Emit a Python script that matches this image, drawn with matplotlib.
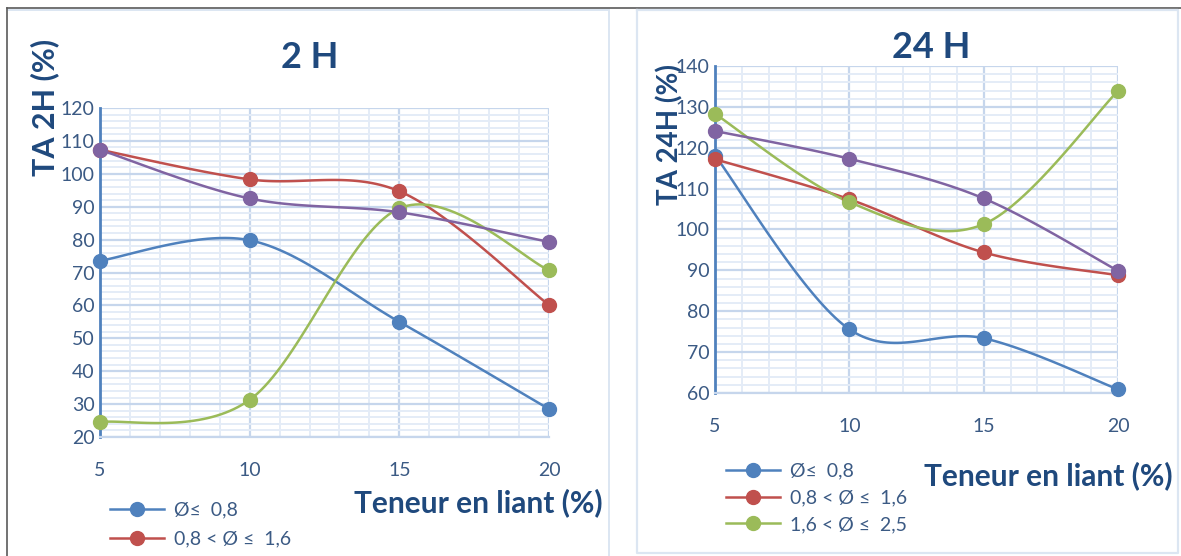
import numpy as np
import matplotlib.pyplot as plt
from matplotlib.lines import Line2D
from matplotlib.ticker import MultipleLocator

plt.rcParams['font.family'] = ['Lato', 'DejaVu Sans']

# teneur en liant (%)
x = [5, 10, 15, 20]

# TA 2H (%)
ta2_a = [73.6, 79.8, 55.0, 28.5]    # Ø ≤ 0,8
ta2_b = [107.3, 98.3, 94.7, 60.1]   # 0,8 < Ø ≤ 1,6
ta2_c = [24.5, 31.3, 89.5, 70.7]    # 1,6 < Ø ≤ 2,5
ta2_d = [107.3, 92.5, 88.3, 79.3]

# TA 24H (%)
ta24_a = [118.1, 75.6, 73.4, 60.9]
ta24_b = [117.2, 107.4, 94.4, 88.8]
ta24_c = [128.3, 106.7, 101.3, 133.9]
ta24_d = [124.1, 117.3, 107.6, 89.9]

labels = ['Ø≤  0,8', '0,8 < Ø ≤  1,6', '1,6 < Ø ≤  2,5']
colors = ['#4F81BD', '#C0504D', '#9BBB59', '#8064A2']
txt = '#1F497D'
tick_col = '#3B5A84'

W, H = 1181, 556


def smooth(xs, ys, n=40):
    # catmull-rom through the points, like excel's smoothed line
    xs = np.asarray(xs, float)
    ys = np.asarray(ys, float)
    px = np.concatenate([[xs[0]], xs, [xs[-1]]])
    py = np.concatenate([[ys[0]], ys, [ys[-1]]])
    ox, oy = [], []
    t = np.linspace(0, 1, n)
    for i in range(1, len(px) - 2):
        for p, o in ((px, ox), (py, oy)):
            p0, p1, p2, p3 = p[i - 1], p[i], p[i + 1], p[i + 2]
            m1 = (p2 - p0) / 2
            m2 = (p3 - p1) / 2
            h00 = 2*t**3 - 3*t**2 + 1
            h10 = t**3 - 2*t**2 + t
            h01 = -2*t**3 + 3*t**2
            h11 = t**3 - t**2
            o.extend(h00*p1 + h10*m1 + h01*p2 + h11*m2)
    return np.array(ox), np.array(oy)


def panel(ax, series, ylim):
    ax.set_xlim(5, 20)
    ax.set_ylim(*ylim)
    ax.xaxis.set_major_locator(MultipleLocator(5))
    ax.xaxis.set_minor_locator(MultipleLocator(1))
    ax.yaxis.set_major_locator(MultipleLocator(10))
    ax.yaxis.set_minor_locator(MultipleLocator(2))
    ax.grid(which='major', color='#C6D6EC', lw=1.6)
    ax.grid(which='minor', color='#E4ECF7', lw=1.4)
    ax.set_axisbelow(True)
    for s in ['top', 'right']:
        ax.spines[s].set_visible(False)
    ax.spines['left'].set_color('#4F81BD')
    ax.spines['left'].set_linewidth(2)
    ax.spines['bottom'].set_color('#C6D6EC')
    ax.spines['bottom'].set_linewidth(1.6)
    ax.tick_params(which='both', length=0)
    ax.tick_params(axis='y', labelsize=14, labelcolor=tick_col, pad=4)
    ax.tick_params(axis='x', labelsize=14, labelcolor=tick_col, pad=18)
    for ys, c in zip(series, colors):
        sx, sy = smooth(x, ys)
        ax.plot(sx, sy, color=c, lw=1.8, clip_on=False, zorder=3)
        ax.plot(x, ys, 'o', color=c, ms=10, clip_on=False, zorder=4)


def ftext(px, py, s, **kw):
    fig.text(px/W, 1 - py/H, s, ha='center', va='center', fontweight='bold',
             color=txt, **kw)


fig = plt.figure(figsize=(11.81, 5.56), dpi=100)

# 2 H
ax1 = fig.add_axes([100/W, 1 - 437/H, 449/W, 329/H])
panel(ax1, [ta2_a, ta2_b, ta2_c, ta2_d], (20, 120))
ftext(310, 57, '2 H', fontsize=26)
ftext(45, 107, 'TA 2H (%)', rotation=90, fontsize=22)
ftext(478, 503, 'Teneur en liant (%)', fontsize=21.5)

# 24 H
ax2 = fig.add_axes([715/W, 1 - 393/H, 403/W, 327/H])
panel(ax2, [ta24_a, ta24_b, ta24_c, ta24_d], (60, 140))
ftext(931, 47, '24 H', fontsize=26)
ftext(670, 134, 'TA 24H (%)', rotation=90, fontsize=20)
ftext(1048, 476, 'Teneur en liant (%)', fontsize=21.5)

handles = [Line2D([], [], color=c, lw=1.8, marker='o', ms=10) for c in colors[:3]]
fig.legend(handles[:2], labels[:2], loc='upper left', bbox_to_anchor=(100/W, 1 - 492/H),
           frameon=False, fontsize=14, labelcolor=tick_col, handlelength=2.8,
           handletextpad=0.5, labelspacing=0.6, borderpad=0)
fig.legend(handles, labels, loc='upper left', bbox_to_anchor=(716/W, 1 - 453/H),
           frameon=False, fontsize=14, labelcolor=tick_col, handlelength=2.8,
           handletextpad=0.5, labelspacing=0.5, borderpad=0)

# outer frame lines
fig.add_artist(Line2D([7/W, 1], [1 - 8/H, 1 - 8/H], color='#5A5A5A', lw=1.2))
fig.add_artist(Line2D([7/W, 7/W], [0, 1 - 8/H], color='#5A5A5A', lw=1.2))
fig.add_artist(Line2D([9/W, 609/W], [1 - 10/H, 1 - 10/H], color='#DCE6F2', lw=1.4))
fig.add_artist(Line2D([609/W, 609/W], [0, 1 - 10/H], color='#DCE6F2', lw=1.4))
fig.add_artist(Line2D([637/W, 1178/W, 1178/W, 637/W, 637/W],
                      [1 - 10/H, 1 - 10/H, 1 - 553/H, 1 - 553/H, 1 - 10/H],
                      color='#DCE6F2', lw=1.6))

fig.savefig('out.png', dpi=100)
